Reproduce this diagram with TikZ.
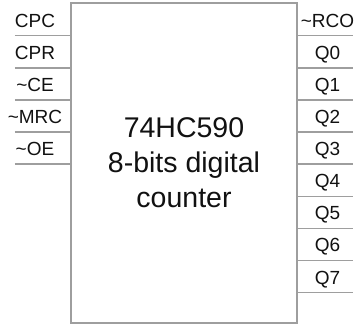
\documentclass[tikz,border=0pt]{standalone}
\usepackage{fontspec}
\setmainfont{Liberation Sans}
\usetikzlibrary{positioning}

\definecolor{pingray}{HTML}{9E9E9E}
\definecolor{inktext}{HTML}{111111}

\begin{document}
\begin{tikzpicture}[
    x=1pt,
    y=-1pt,
    chip/.style={
        rectangle,
        draw=pingray,
        line width=1.6pt,
        fill=white,
        minimum width=226pt,
        minimum height=319.5pt,
        outer sep=0pt,
        align=center,
        text=inktext,
        font=\fontsize{28.5}{35}\selectfont
    },
    leftpin/.style={
        rectangle,
        minimum width=72pt,
        minimum height=32.1pt,
        inner sep=0pt,
        outer sep=0pt,
        text height=15pt,
        text depth=0pt,
        text=inktext,
        font=\fontsize{19}{20}\selectfont
    },
    rightpin/.style={
        leftpin,
        minimum width=61pt
    },
    pinline/.style={draw=pingray, line width=1.4pt}
]
    \useasboundingbox (0,0) rectangle (360,324);

    % Chip body
    \node[chip] (counter) at (184,163) {74HC590\\8-bits digital\\counter};

    % Inputs
    \node[leftpin, anchor=north east] (cpc) at ([yshift=-0.4pt]counter.north west) {CPC};
    \node[leftpin] (cpr) [below=0pt of cpc] {CPR};
    \node[leftpin] (ce) [below=0pt of cpr] {\textasciitilde CE};
    \node[leftpin] (mrc) [below=0pt of ce] {\textasciitilde MRC};
    \node[leftpin] (oe) [below=0pt of mrc] {\textasciitilde OE};

    % Outputs
    \node[rightpin, anchor=north west] (rco) at ([yshift=-0.4pt]counter.north east) {\textasciitilde RCO};
    \node[rightpin] (q0) [below=0pt of rco] {Q0};
    \node[rightpin] (q1) [below=0pt of q0] {Q1};
    \node[rightpin] (q2) [below=0pt of q1] {Q2};
    \node[rightpin] (q3) [below=0pt of q2] {Q3};
    \node[rightpin] (q4) [below=0pt of q3] {Q4};
    \node[rightpin] (q5) [below=0pt of q4] {Q5};
    \node[rightpin] (q6) [below=0pt of q5] {Q6};
    \node[rightpin] (q7) [below=0pt of q6] {Q7};

    % Pin lines
    \draw[pinline] ([xshift=16pt]cpc.south west) -- (cpc.south east);
    \draw[pinline] ([xshift=16pt]cpr.south west) -- (cpr.south east);
    \draw[pinline] ([xshift=16pt]ce.south west) -- (ce.south east);
    \draw[pinline] ([xshift=16pt]mrc.south west) -- (mrc.south east);
    \draw[pinline] ([xshift=16pt]oe.south west) -- (oe.south east);
    \draw[pinline] (rco.south west) -- ([xshift=-5pt]rco.south east);
    \draw[pinline] (q0.south west) -- ([xshift=-5pt]q0.south east);
    \draw[pinline] (q1.south west) -- ([xshift=-5pt]q1.south east);
    \draw[pinline] (q2.south west) -- ([xshift=-5pt]q2.south east);
    \draw[pinline] (q3.south west) -- ([xshift=-5pt]q3.south east);
    \draw[pinline] (q4.south west) -- ([xshift=-5pt]q4.south east);
    \draw[pinline] (q5.south west) -- ([xshift=-5pt]q5.south east);
    \draw[pinline] (q6.south west) -- ([xshift=-5pt]q6.south east);
    \draw[pinline] (q7.south west) -- ([xshift=-5pt]q7.south east);
\end{tikzpicture}
\end{document}
